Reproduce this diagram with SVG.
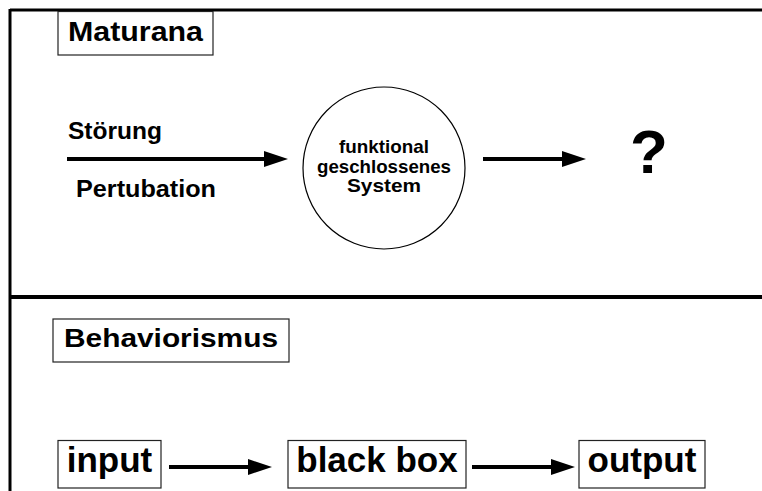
<svg xmlns="http://www.w3.org/2000/svg" width="762" height="491" viewBox="0 0 762 491">
<style>
.t{font-family:"Liberation Sans",Arial,sans-serif;font-weight:bold;fill:#000}
.box{fill:#fff;stroke:#222;stroke-width:1.2}
.frame{stroke:#000;stroke-width:3;fill:none}
.conn{stroke:#000;stroke-width:4;fill:none}
</style>
<defs>
<marker id="ah" markerUnits="userSpaceOnUse" markerWidth="24" markerHeight="16" viewBox="0 0 24 16" refX="4" refY="8" orient="auto">
<path d="M0,0 L24,8 L0,16 Z" fill="#000"/>
</marker>
</defs>
<rect width="762" height="491" fill="#fff"/>
<g id="frame">
<line class="frame" x1="10" y1="10" x2="762" y2="10"/>
<line class="frame" x1="10" y1="9" x2="10" y2="491"/>
<line class="frame" x1="10" y1="297" x2="762" y2="297" style="stroke-width:4"/>
</g>
<g id="node-maturana">
<rect class="box" x="58" y="11.5" width="155" height="43.5"/>
<text class="t" x="68" y="41" font-size="27" textLength="135" lengthAdjust="spacingAndGlyphs">Maturana</text>
</g>
<g id="label-stoerung">
<text class="t" x="68" y="139" font-size="23" textLength="94" lengthAdjust="spacingAndGlyphs">Störung</text>
</g>
<g id="label-pertubation">
<text class="t" x="76" y="197" font-size="23" textLength="140" lengthAdjust="spacingAndGlyphs">Pertubation</text>
</g>
<g id="node-system">
<circle cx="384" cy="168" r="81" fill="#fff" stroke="#000" stroke-width="1.2"/>
<text class="t" x="384" y="153" font-size="18.5" text-anchor="middle" textLength="90" lengthAdjust="spacingAndGlyphs">funktional</text>
<text class="t" x="384" y="173" font-size="18.5" text-anchor="middle" textLength="134" lengthAdjust="spacingAndGlyphs">geschlossenes</text>
<text class="t" x="384" y="192" font-size="18.5" text-anchor="middle" textLength="74" lengthAdjust="spacingAndGlyphs">System</text>
</g>
<g id="node-question">
<text class="t" x="649" y="173" font-size="62" text-anchor="middle">?</text>
</g>
<g id="node-behaviorismus">
<rect class="box" x="53" y="319" width="236" height="43"/>
<text class="t" x="64" y="347" font-size="25" textLength="214" lengthAdjust="spacingAndGlyphs">Behaviorismus</text>
</g>
<g id="node-input">
<rect class="box" x="58" y="440.5" width="103" height="47.5"/>
<text class="t" x="109.5" y="472" font-size="35" text-anchor="middle">input</text>
</g>
<g id="node-blackbox">
<rect class="box" x="288" y="440.5" width="178" height="47.5"/>
<text class="t" x="377" y="472" font-size="35" text-anchor="middle">black box</text>
</g>
<g id="node-output">
<rect class="box" x="579" y="440.5" width="126" height="47.5"/>
<text class="t" x="642" y="472" font-size="35" text-anchor="middle">output</text>
</g>
<g id="connectors">
<line class="conn" x1="67" y1="159" x2="268" y2="159" marker-end="url(#ah)"/>
<line class="conn" x1="483" y1="159" x2="566" y2="159" marker-end="url(#ah)"/>
<line class="conn" x1="169" y1="467" x2="252" y2="467" marker-end="url(#ah)"/>
<line class="conn" x1="472" y1="467" x2="555" y2="467" marker-end="url(#ah)"/>
</g>
</svg>
